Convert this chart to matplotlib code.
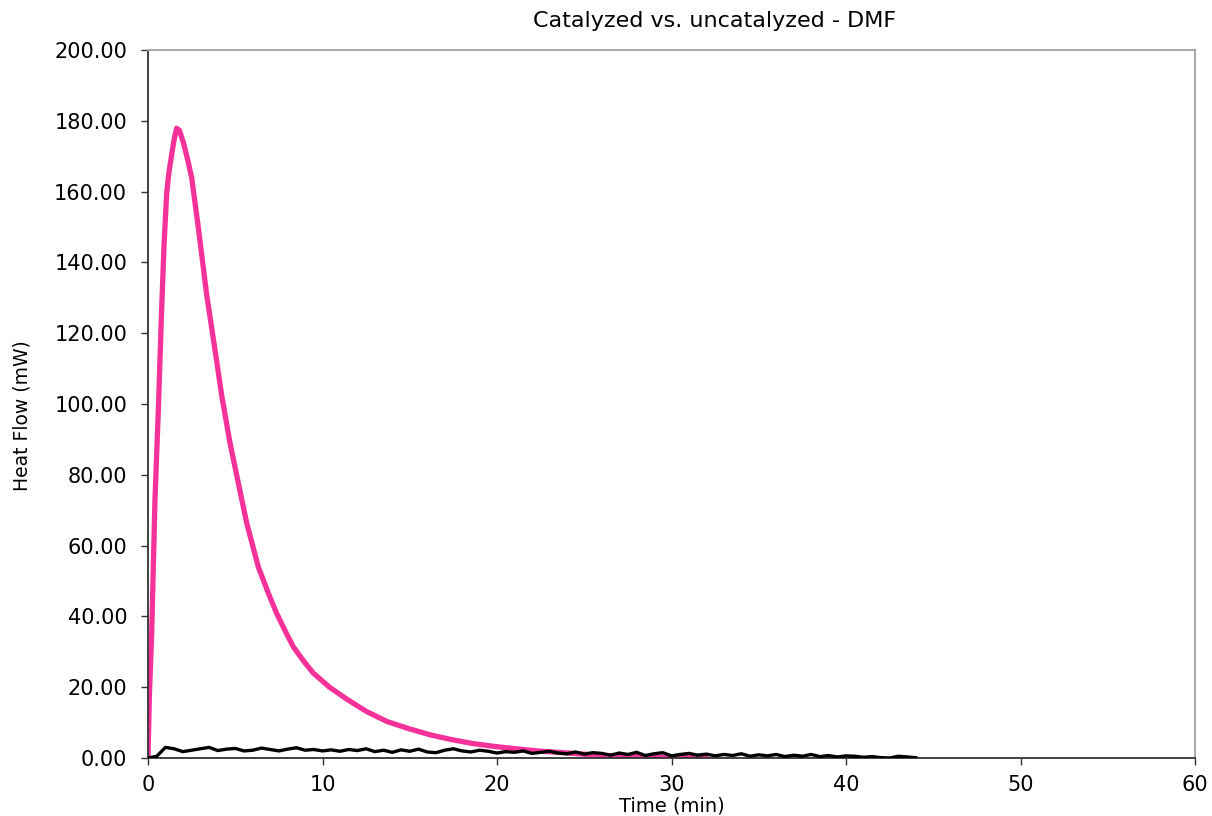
import numpy as np
import matplotlib
matplotlib.use("Agg")
import matplotlib.pyplot as plt

# catalyzed run (pink)
cat_t = [0.0, 0.08, 0.21, 0.4, 0.59, 0.78, 0.92, 1.07, 1.2, 1.36, 1.5, 1.64, 1.8, 2.03,
         2.25, 2.5, 2.88, 3.36, 3.94, 4.22, 4.7, 5.18, 5.66, 6.32, 6.9, 7.37, 7.9,
         8.33, 8.9, 9.47, 10.4, 11.4, 12.5, 13.7, 15.0, 16.2, 17.4, 18.6, 19.8, 20.9,
         22.3, 23.8, 25.2, 26.6, 28.0, 29.5, 31.0, 32.0]
cat_y = [0.0, 18.0, 35.0, 73.0, 98.0, 126.5, 145.0, 159.5, 165.5, 170.5, 174.8, 177.9,
         177.3, 173.8, 169.5, 164.0, 150.0, 131.0, 112.0, 102.5, 89.0, 77.6, 66.3,
         54.0, 46.5, 40.9, 35.5, 31.4, 27.5, 24.0, 20.0, 16.6, 13.2, 10.3, 8.2, 6.5,
         5.2, 4.1, 3.3, 2.7, 2.0, 1.5, 1.0, 0.6, 0.4, 0.2, 0.1, 0.0]

# uncatalyzed run (black), sampled every 0.5 min
unc_t = np.arange(0, 44.5, 0.5)
unc_y = [0.0, 0.5, 3.0, 2.6, 1.8, 2.2, 2.6, 3.0, 2.1, 2.5, 2.7, 2.0, 2.2, 2.8, 2.4,
         2.0, 2.5, 2.9, 2.2, 2.4, 2.0, 2.3, 1.9, 2.4, 2.1, 2.6, 1.8, 2.2, 1.6, 2.3,
         1.9, 2.5, 1.7, 1.5, 2.2, 2.6, 2.0, 1.7, 2.2, 1.9, 1.4, 1.8, 1.6, 2.0, 1.3,
         1.6, 1.9, 1.4, 1.2, 1.7, 1.1, 1.5, 1.3, 0.8, 1.4, 1.0, 1.6, 0.7, 1.2, 1.5,
         0.6, 1.0, 1.3, 0.8, 1.1, 0.6, 1.0, 0.7, 1.2, 0.5, 0.9, 0.6, 1.0, 0.4, 0.8,
         0.5, 1.0, 0.4, 0.7, 0.3, 0.6, 0.5, 0.2, 0.4, 0.1, 0.0, 0.5, 0.3, 0.1]

xticks = [0, 10, 20, 30, 40, 50, 60]
yticks = [0, 20, 40, 60, 80, 100, 120, 140, 160, 180, 200]

fig = plt.figure(figsize=(12.12, 8.16), dpi=100)
ax = fig.add_axes([148 / 1212, 1 - 758 / 816, (1195 - 148) / 1212, (758 - 50) / 816])

ax.plot(unc_t, unc_y, color="black", lw=2.4, zorder=3)
ax.plot(cat_t, cat_y, color="#f5329a", lw=3.8, solid_capstyle="round", zorder=2)

ax.set_xlim(0, 60)
ax.set_ylim(0, 200)
ax.set_xticks(xticks)
ax.set_yticks(yticks)
ax.set_yticklabels(["%.2f" % v for v in yticks])

for s in ["left", "bottom"]:
    ax.spines[s].set_color("#333333")
    ax.spines[s].set_linewidth(1.3)
for s in ["top", "right"]:
    ax.spines[s].set_color("#aaaaaa")
    ax.spines[s].set_linewidth(1.5)

ax.tick_params(axis="y", direction="out", length=5, width=1, color="#333333",
               labelsize=15, pad=10)
ax.tick_params(axis="x", direction="out", length=5, width=1, color="#333333",
               labelsize=15, pad=7)

fig.text(715 / 1212, 1 - 21 / 816, "Catalyzed vs. uncatalyzed - DMF",
         ha="center", va="center", fontsize=16)
fig.text(672 / 1212, 1 - 806 / 816, "Time (min)", ha="center", va="center", fontsize=14)
fig.text(22 / 1212, 1 - 416 / 816, "Heat Flow (mW)", ha="center", va="center",
         rotation=90, fontsize=13.5)

fig.savefig("out.png", dpi=100)
